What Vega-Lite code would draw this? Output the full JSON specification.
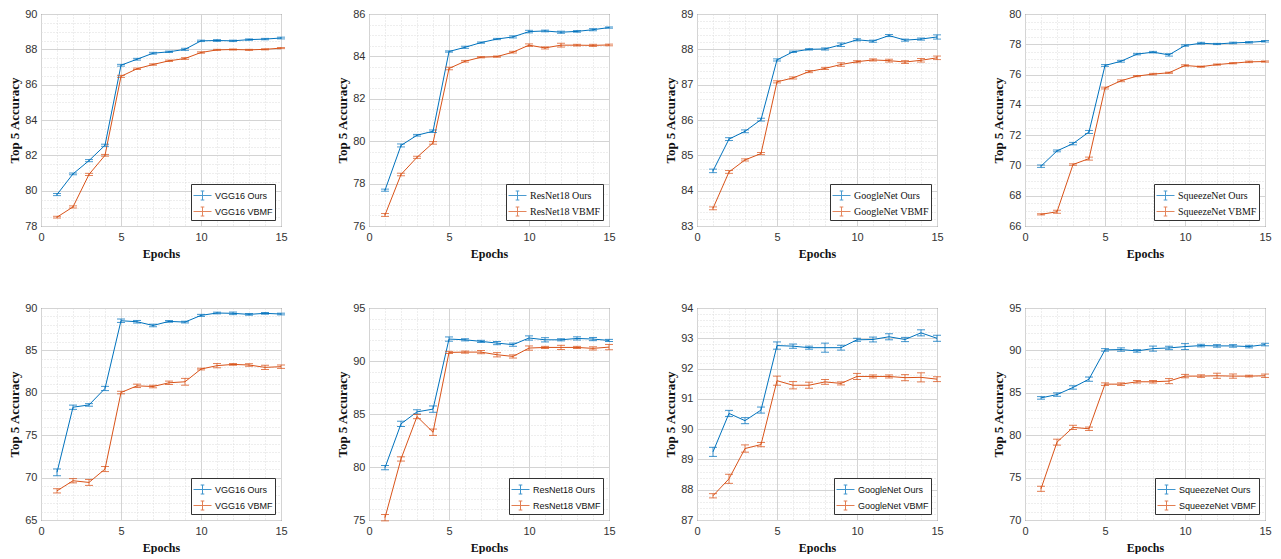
{
  "$schema": "https://vega.github.io/schema/vega-lite/v6.json",
  "padding": {"left": 8, "top": 7, "right": 0, "bottom": 0},
  "background": "white",
  "columns": 4,
  "bounds": "flush",
  "spacing": {"row": 82, "column": 88},
  "resolve": {"scale": {"color": "independent"}, "legend": {"color": "independent"}},
  "datasets": {
    "p1": [
      {"series": "VGG16 Ours", "epoch": 1, "acc": 79.78, "err": 0.06}, {"series": "VGG16 Ours", "epoch": 2, "acc": 80.95, "err": 0.05}, {"series": "VGG16 Ours", "epoch": 3, "acc": 81.7, "err": 0.06}, {"series": "VGG16 Ours", "epoch": 4, "acc": 82.57, "err": 0.06}, {"series": "VGG16 Ours", "epoch": 5, "acc": 87.1, "err": 0.05}, {"series": "VGG16 Ours", "epoch": 6, "acc": 87.44, "err": 0.05}, {"series": "VGG16 Ours", "epoch": 7, "acc": 87.78, "err": 0.05}, {"series": "VGG16 Ours", "epoch": 8, "acc": 87.86, "err": 0.04}, {"series": "VGG16 Ours", "epoch": 9, "acc": 88.0, "err": 0.06}, {"series": "VGG16 Ours", "epoch": 10, "acc": 88.48, "err": 0.04}, {"series": "VGG16 Ours", "epoch": 11, "acc": 88.5, "err": 0.05}, {"series": "VGG16 Ours", "epoch": 12, "acc": 88.48, "err": 0.04}, {"series": "VGG16 Ours", "epoch": 13, "acc": 88.55, "err": 0.04}, {"series": "VGG16 Ours", "epoch": 14, "acc": 88.58, "err": 0.04}, {"series": "VGG16 Ours", "epoch": 15, "acc": 88.64, "err": 0.05},
      {"series": "VGG16 VBMF", "epoch": 1, "acc": 78.5, "err": 0.05}, {"series": "VGG16 VBMF", "epoch": 2, "acc": 79.08, "err": 0.06}, {"series": "VGG16 VBMF", "epoch": 3, "acc": 80.92, "err": 0.06}, {"series": "VGG16 VBMF", "epoch": 4, "acc": 82.0, "err": 0.05}, {"series": "VGG16 VBMF", "epoch": 5, "acc": 86.47, "err": 0.06}, {"series": "VGG16 VBMF", "epoch": 6, "acc": 86.9, "err": 0.04}, {"series": "VGG16 VBMF", "epoch": 7, "acc": 87.14, "err": 0.04}, {"series": "VGG16 VBMF", "epoch": 8, "acc": 87.35, "err": 0.04}, {"series": "VGG16 VBMF", "epoch": 9, "acc": 87.48, "err": 0.05}, {"series": "VGG16 VBMF", "epoch": 10, "acc": 87.82, "err": 0.04}, {"series": "VGG16 VBMF", "epoch": 11, "acc": 87.97, "err": 0.03}, {"series": "VGG16 VBMF", "epoch": 12, "acc": 87.99, "err": 0.03}, {"series": "VGG16 VBMF", "epoch": 13, "acc": 87.97, "err": 0.03}, {"series": "VGG16 VBMF", "epoch": 14, "acc": 88.0, "err": 0.03}, {"series": "VGG16 VBMF", "epoch": 15, "acc": 88.07, "err": 0.03}
    ],
    "p2": [
      {"series": "ResNet18 Ours", "epoch": 1, "acc": 77.69, "err": 0.05}, {"series": "ResNet18 Ours", "epoch": 2, "acc": 79.8, "err": 0.07}, {"series": "ResNet18 Ours", "epoch": 3, "acc": 80.28, "err": 0.04}, {"series": "ResNet18 Ours", "epoch": 4, "acc": 80.47, "err": 0.06}, {"series": "ResNet18 Ours", "epoch": 5, "acc": 84.23, "err": 0.03}, {"series": "ResNet18 Ours", "epoch": 6, "acc": 84.43, "err": 0.05}, {"series": "ResNet18 Ours", "epoch": 7, "acc": 84.65, "err": 0.03}, {"series": "ResNet18 Ours", "epoch": 8, "acc": 84.82, "err": 0.03}, {"series": "ResNet18 Ours", "epoch": 9, "acc": 84.92, "err": 0.05}, {"series": "ResNet18 Ours", "epoch": 10, "acc": 85.17, "err": 0.06}, {"series": "ResNet18 Ours", "epoch": 11, "acc": 85.2, "err": 0.04}, {"series": "ResNet18 Ours", "epoch": 12, "acc": 85.14, "err": 0.05}, {"series": "ResNet18 Ours", "epoch": 13, "acc": 85.18, "err": 0.04}, {"series": "ResNet18 Ours", "epoch": 14, "acc": 85.26, "err": 0.05}, {"series": "ResNet18 Ours", "epoch": 15, "acc": 85.36, "err": 0.03},
      {"series": "ResNet18 VBMF", "epoch": 1, "acc": 76.52, "err": 0.07}, {"series": "ResNet18 VBMF", "epoch": 2, "acc": 78.43, "err": 0.06}, {"series": "ResNet18 VBMF", "epoch": 3, "acc": 79.24, "err": 0.05}, {"series": "ResNet18 VBMF", "epoch": 4, "acc": 79.92, "err": 0.06}, {"series": "ResNet18 VBMF", "epoch": 5, "acc": 83.43, "err": 0.06}, {"series": "ResNet18 VBMF", "epoch": 6, "acc": 83.77, "err": 0.04}, {"series": "ResNet18 VBMF", "epoch": 7, "acc": 83.96, "err": 0.03}, {"series": "ResNet18 VBMF", "epoch": 8, "acc": 83.99, "err": 0.03}, {"series": "ResNet18 VBMF", "epoch": 9, "acc": 84.2, "err": 0.04}, {"series": "ResNet18 VBMF", "epoch": 10, "acc": 84.53, "err": 0.06}, {"series": "ResNet18 VBMF", "epoch": 11, "acc": 84.4, "err": 0.05}, {"series": "ResNet18 VBMF", "epoch": 12, "acc": 84.53, "err": 0.09}, {"series": "ResNet18 VBMF", "epoch": 13, "acc": 84.53, "err": 0.04}, {"series": "ResNet18 VBMF", "epoch": 14, "acc": 84.52, "err": 0.05}, {"series": "ResNet18 VBMF", "epoch": 15, "acc": 84.54, "err": 0.04}
    ],
    "p3": [
      {"series": "GoogleNet Ours", "epoch": 1, "acc": 84.56, "err": 0.05}, {"series": "GoogleNet Ours", "epoch": 2, "acc": 85.46, "err": 0.04}, {"series": "GoogleNet Ours", "epoch": 3, "acc": 85.68, "err": 0.04}, {"series": "GoogleNet Ours", "epoch": 4, "acc": 86.01, "err": 0.04}, {"series": "GoogleNet Ours", "epoch": 5, "acc": 87.7, "err": 0.03}, {"series": "GoogleNet Ours", "epoch": 6, "acc": 87.93, "err": 0.02}, {"series": "GoogleNet Ours", "epoch": 7, "acc": 88.0, "err": 0.02}, {"series": "GoogleNet Ours", "epoch": 8, "acc": 88.01, "err": 0.03}, {"series": "GoogleNet Ours", "epoch": 9, "acc": 88.13, "err": 0.05}, {"series": "GoogleNet Ours", "epoch": 10, "acc": 88.27, "err": 0.03}, {"series": "GoogleNet Ours", "epoch": 11, "acc": 88.23, "err": 0.03}, {"series": "GoogleNet Ours", "epoch": 12, "acc": 88.39, "err": 0.03}, {"series": "GoogleNet Ours", "epoch": 13, "acc": 88.26, "err": 0.03}, {"series": "GoogleNet Ours", "epoch": 14, "acc": 88.29, "err": 0.03}, {"series": "GoogleNet Ours", "epoch": 15, "acc": 88.35, "err": 0.06},
      {"series": "GoogleNet VBMF", "epoch": 1, "acc": 83.5, "err": 0.04}, {"series": "GoogleNet VBMF", "epoch": 2, "acc": 84.53, "err": 0.04}, {"series": "GoogleNet VBMF", "epoch": 3, "acc": 84.87, "err": 0.03}, {"series": "GoogleNet VBMF", "epoch": 4, "acc": 85.05, "err": 0.03}, {"series": "GoogleNet VBMF", "epoch": 5, "acc": 87.08, "err": 0.03}, {"series": "GoogleNet VBMF", "epoch": 6, "acc": 87.19, "err": 0.03}, {"series": "GoogleNet VBMF", "epoch": 7, "acc": 87.37, "err": 0.03}, {"series": "GoogleNet VBMF", "epoch": 8, "acc": 87.46, "err": 0.03}, {"series": "GoogleNet VBMF", "epoch": 9, "acc": 87.57, "err": 0.05}, {"series": "GoogleNet VBMF", "epoch": 10, "acc": 87.65, "err": 0.03}, {"series": "GoogleNet VBMF", "epoch": 11, "acc": 87.7, "err": 0.03}, {"series": "GoogleNet VBMF", "epoch": 12, "acc": 87.68, "err": 0.04}, {"series": "GoogleNet VBMF", "epoch": 13, "acc": 87.64, "err": 0.04}, {"series": "GoogleNet VBMF", "epoch": 14, "acc": 87.69, "err": 0.05}, {"series": "GoogleNet VBMF", "epoch": 15, "acc": 87.76, "err": 0.05}
    ],
    "p4": [
      {"series": "SqueezeNet Ours", "epoch": 1, "acc": 69.95, "err": 0.08}, {"series": "SqueezeNet Ours", "epoch": 2, "acc": 70.96, "err": 0.06}, {"series": "SqueezeNet Ours", "epoch": 3, "acc": 71.44, "err": 0.08}, {"series": "SqueezeNet Ours", "epoch": 4, "acc": 72.21, "err": 0.1}, {"series": "SqueezeNet Ours", "epoch": 5, "acc": 76.6, "err": 0.06}, {"series": "SqueezeNet Ours", "epoch": 6, "acc": 76.88, "err": 0.06}, {"series": "SqueezeNet Ours", "epoch": 7, "acc": 77.35, "err": 0.05}, {"series": "SqueezeNet Ours", "epoch": 8, "acc": 77.48, "err": 0.05}, {"series": "SqueezeNet Ours", "epoch": 9, "acc": 77.3, "err": 0.08}, {"series": "SqueezeNet Ours", "epoch": 10, "acc": 77.92, "err": 0.05}, {"series": "SqueezeNet Ours", "epoch": 11, "acc": 78.07, "err": 0.06}, {"series": "SqueezeNet Ours", "epoch": 12, "acc": 78.02, "err": 0.04}, {"series": "SqueezeNet Ours", "epoch": 13, "acc": 78.09, "err": 0.05}, {"series": "SqueezeNet Ours", "epoch": 14, "acc": 78.13, "err": 0.05}, {"series": "SqueezeNet Ours", "epoch": 15, "acc": 78.2, "err": 0.05},
      {"series": "SqueezeNet VBMF", "epoch": 1, "acc": 66.77, "err": 0.04}, {"series": "SqueezeNet VBMF", "epoch": 2, "acc": 66.94, "err": 0.1}, {"series": "SqueezeNet VBMF", "epoch": 3, "acc": 70.06, "err": 0.05}, {"series": "SqueezeNet VBMF", "epoch": 4, "acc": 70.45, "err": 0.1}, {"series": "SqueezeNet VBMF", "epoch": 5, "acc": 75.11, "err": 0.06}, {"series": "SqueezeNet VBMF", "epoch": 6, "acc": 75.59, "err": 0.06}, {"series": "SqueezeNet VBMF", "epoch": 7, "acc": 75.9, "err": 0.04}, {"series": "SqueezeNet VBMF", "epoch": 8, "acc": 76.03, "err": 0.05}, {"series": "SqueezeNet VBMF", "epoch": 9, "acc": 76.12, "err": 0.04}, {"series": "SqueezeNet VBMF", "epoch": 10, "acc": 76.6, "err": 0.05}, {"series": "SqueezeNet VBMF", "epoch": 11, "acc": 76.52, "err": 0.04}, {"series": "SqueezeNet VBMF", "epoch": 12, "acc": 76.66, "err": 0.04}, {"series": "SqueezeNet VBMF", "epoch": 13, "acc": 76.75, "err": 0.04}, {"series": "SqueezeNet VBMF", "epoch": 14, "acc": 76.84, "err": 0.05}, {"series": "SqueezeNet VBMF", "epoch": 15, "acc": 76.86, "err": 0.04}
    ],
    "p5": [
      {"series": "VGG16 Ours", "epoch": 1, "acc": 70.62, "err": 0.4}, {"series": "VGG16 Ours", "epoch": 2, "acc": 78.3, "err": 0.25}, {"series": "VGG16 Ours", "epoch": 3, "acc": 78.57, "err": 0.15}, {"series": "VGG16 Ours", "epoch": 4, "acc": 80.51, "err": 0.25}, {"series": "VGG16 Ours", "epoch": 5, "acc": 88.5, "err": 0.2}, {"series": "VGG16 Ours", "epoch": 6, "acc": 88.38, "err": 0.15}, {"series": "VGG16 Ours", "epoch": 7, "acc": 87.94, "err": 0.15}, {"series": "VGG16 Ours", "epoch": 8, "acc": 88.42, "err": 0.1}, {"series": "VGG16 Ours", "epoch": 9, "acc": 88.34, "err": 0.1}, {"series": "VGG16 Ours", "epoch": 10, "acc": 89.13, "err": 0.12}, {"series": "VGG16 Ours", "epoch": 11, "acc": 89.41, "err": 0.1}, {"series": "VGG16 Ours", "epoch": 12, "acc": 89.37, "err": 0.15}, {"series": "VGG16 Ours", "epoch": 13, "acc": 89.25, "err": 0.1}, {"series": "VGG16 Ours", "epoch": 14, "acc": 89.37, "err": 0.1}, {"series": "VGG16 Ours", "epoch": 15, "acc": 89.29, "err": 0.1},
      {"series": "VGG16 VBMF", "epoch": 1, "acc": 68.44, "err": 0.25}, {"series": "VGG16 VBMF", "epoch": 2, "acc": 69.63, "err": 0.25}, {"series": "VGG16 VBMF", "epoch": 3, "acc": 69.43, "err": 0.35}, {"series": "VGG16 VBMF", "epoch": 4, "acc": 71.01, "err": 0.3}, {"series": "VGG16 VBMF", "epoch": 5, "acc": 80.03, "err": 0.15}, {"series": "VGG16 VBMF", "epoch": 6, "acc": 80.82, "err": 0.2}, {"series": "VGG16 VBMF", "epoch": 7, "acc": 80.74, "err": 0.15}, {"series": "VGG16 VBMF", "epoch": 8, "acc": 81.18, "err": 0.2}, {"series": "VGG16 VBMF", "epoch": 9, "acc": 81.3, "err": 0.4}, {"series": "VGG16 VBMF", "epoch": 10, "acc": 82.8, "err": 0.1}, {"series": "VGG16 VBMF", "epoch": 11, "acc": 83.2, "err": 0.25}, {"series": "VGG16 VBMF", "epoch": 12, "acc": 83.35, "err": 0.1}, {"series": "VGG16 VBMF", "epoch": 13, "acc": 83.28, "err": 0.15}, {"series": "VGG16 VBMF", "epoch": 14, "acc": 83.0, "err": 0.25}, {"series": "VGG16 VBMF", "epoch": 15, "acc": 83.08, "err": 0.2}
    ],
    "p6": [
      {"series": "ResNet18 Ours", "epoch": 1, "acc": 79.94, "err": 0.2}, {"series": "ResNet18 Ours", "epoch": 2, "acc": 84.07, "err": 0.25}, {"series": "ResNet18 Ours", "epoch": 3, "acc": 85.2, "err": 0.2}, {"series": "ResNet18 Ours", "epoch": 4, "acc": 85.46, "err": 0.3}, {"series": "ResNet18 Ours", "epoch": 5, "acc": 92.07, "err": 0.2}, {"series": "ResNet18 Ours", "epoch": 6, "acc": 92.0, "err": 0.1}, {"series": "ResNet18 Ours", "epoch": 7, "acc": 91.85, "err": 0.1}, {"series": "ResNet18 Ours", "epoch": 8, "acc": 91.69, "err": 0.15}, {"series": "ResNet18 Ours", "epoch": 9, "acc": 91.54, "err": 0.15}, {"series": "ResNet18 Ours", "epoch": 10, "acc": 92.17, "err": 0.2}, {"series": "ResNet18 Ours", "epoch": 11, "acc": 92.0, "err": 0.2}, {"series": "ResNet18 Ours", "epoch": 12, "acc": 92.0, "err": 0.1}, {"series": "ResNet18 Ours", "epoch": 13, "acc": 92.13, "err": 0.15}, {"series": "ResNet18 Ours", "epoch": 14, "acc": 92.07, "err": 0.15}, {"series": "ResNet18 Ours", "epoch": 15, "acc": 91.94, "err": 0.1},
      {"series": "ResNet18 VBMF", "epoch": 1, "acc": 75.22, "err": 0.3}, {"series": "ResNet18 VBMF", "epoch": 2, "acc": 80.76, "err": 0.2}, {"series": "ResNet18 VBMF", "epoch": 3, "acc": 84.76, "err": 0.2}, {"series": "ResNet18 VBMF", "epoch": 4, "acc": 83.28, "err": 0.3}, {"series": "ResNet18 VBMF", "epoch": 5, "acc": 90.81, "err": 0.1}, {"series": "ResNet18 VBMF", "epoch": 6, "acc": 90.84, "err": 0.1}, {"series": "ResNet18 VBMF", "epoch": 7, "acc": 90.84, "err": 0.15}, {"series": "ResNet18 VBMF", "epoch": 8, "acc": 90.59, "err": 0.2}, {"series": "ResNet18 VBMF", "epoch": 9, "acc": 90.43, "err": 0.15}, {"series": "ResNet18 VBMF", "epoch": 10, "acc": 91.22, "err": 0.2}, {"series": "ResNet18 VBMF", "epoch": 11, "acc": 91.28, "err": 0.1}, {"series": "ResNet18 VBMF", "epoch": 12, "acc": 91.28, "err": 0.2}, {"series": "ResNet18 VBMF", "epoch": 13, "acc": 91.28, "err": 0.1}, {"series": "ResNet18 VBMF", "epoch": 14, "acc": 91.19, "err": 0.15}, {"series": "ResNet18 VBMF", "epoch": 15, "acc": 91.31, "err": 0.25}
    ],
    "p7": [
      {"series": "GoogleNet Ours", "epoch": 1, "acc": 89.25, "err": 0.15}, {"series": "GoogleNet Ours", "epoch": 2, "acc": 90.52, "err": 0.1}, {"series": "GoogleNet Ours", "epoch": 3, "acc": 90.28, "err": 0.1}, {"series": "GoogleNet Ours", "epoch": 4, "acc": 90.63, "err": 0.1}, {"series": "GoogleNet Ours", "epoch": 5, "acc": 92.76, "err": 0.12}, {"series": "GoogleNet Ours", "epoch": 6, "acc": 92.74, "err": 0.07}, {"series": "GoogleNet Ours", "epoch": 7, "acc": 92.69, "err": 0.05}, {"series": "GoogleNet Ours", "epoch": 8, "acc": 92.69, "err": 0.15}, {"series": "GoogleNet Ours", "epoch": 9, "acc": 92.69, "err": 0.08}, {"series": "GoogleNet Ours", "epoch": 10, "acc": 92.95, "err": 0.05}, {"series": "GoogleNet Ours", "epoch": 11, "acc": 92.96, "err": 0.08}, {"series": "GoogleNet Ours", "epoch": 12, "acc": 93.05, "err": 0.1}, {"series": "GoogleNet Ours", "epoch": 13, "acc": 92.96, "err": 0.07}, {"series": "GoogleNet Ours", "epoch": 14, "acc": 93.18, "err": 0.1}, {"series": "GoogleNet Ours", "epoch": 15, "acc": 93.0, "err": 0.1},
      {"series": "GoogleNet VBMF", "epoch": 1, "acc": 87.8, "err": 0.07}, {"series": "GoogleNet VBMF", "epoch": 2, "acc": 88.36, "err": 0.15}, {"series": "GoogleNet VBMF", "epoch": 3, "acc": 89.36, "err": 0.12}, {"series": "GoogleNet VBMF", "epoch": 4, "acc": 89.49, "err": 0.07}, {"series": "GoogleNet VBMF", "epoch": 5, "acc": 91.6, "err": 0.15}, {"series": "GoogleNet VBMF", "epoch": 6, "acc": 91.45, "err": 0.12}, {"series": "GoogleNet VBMF", "epoch": 7, "acc": 91.45, "err": 0.1}, {"series": "GoogleNet VBMF", "epoch": 8, "acc": 91.56, "err": 0.08}, {"series": "GoogleNet VBMF", "epoch": 9, "acc": 91.51, "err": 0.05}, {"series": "GoogleNet VBMF", "epoch": 10, "acc": 91.74, "err": 0.1}, {"series": "GoogleNet VBMF", "epoch": 11, "acc": 91.74, "err": 0.05}, {"series": "GoogleNet VBMF", "epoch": 12, "acc": 91.74, "err": 0.05}, {"series": "GoogleNet VBMF", "epoch": 13, "acc": 91.7, "err": 0.1}, {"series": "GoogleNet VBMF", "epoch": 14, "acc": 91.71, "err": 0.15}, {"series": "GoogleNet VBMF", "epoch": 15, "acc": 91.65, "err": 0.08}
    ],
    "p8": [
      {"series": "SqueezeNet Ours", "epoch": 1, "acc": 84.4, "err": 0.15}, {"series": "SqueezeNet Ours", "epoch": 2, "acc": 84.79, "err": 0.2}, {"series": "SqueezeNet Ours", "epoch": 3, "acc": 85.63, "err": 0.2}, {"series": "SqueezeNet Ours", "epoch": 4, "acc": 86.61, "err": 0.25}, {"series": "SqueezeNet Ours", "epoch": 5, "acc": 90.06, "err": 0.15}, {"series": "SqueezeNet Ours", "epoch": 6, "acc": 90.1, "err": 0.2}, {"series": "SqueezeNet Ours", "epoch": 7, "acc": 89.94, "err": 0.15}, {"series": "SqueezeNet Ours", "epoch": 8, "acc": 90.21, "err": 0.3}, {"series": "SqueezeNet Ours", "epoch": 9, "acc": 90.29, "err": 0.2}, {"series": "SqueezeNet Ours", "epoch": 10, "acc": 90.45, "err": 0.35}, {"series": "SqueezeNet Ours", "epoch": 11, "acc": 90.57, "err": 0.15}, {"series": "SqueezeNet Ours", "epoch": 12, "acc": 90.53, "err": 0.15}, {"series": "SqueezeNet Ours", "epoch": 13, "acc": 90.53, "err": 0.15}, {"series": "SqueezeNet Ours", "epoch": 14, "acc": 90.45, "err": 0.15}, {"series": "SqueezeNet Ours", "epoch": 15, "acc": 90.69, "err": 0.15},
      {"series": "SqueezeNet VBMF", "epoch": 1, "acc": 73.68, "err": 0.3}, {"series": "SqueezeNet VBMF", "epoch": 2, "acc": 79.18, "err": 0.35}, {"series": "SqueezeNet VBMF", "epoch": 3, "acc": 80.92, "err": 0.25}, {"series": "SqueezeNet VBMF", "epoch": 4, "acc": 80.76, "err": 0.2}, {"series": "SqueezeNet VBMF", "epoch": 5, "acc": 86.02, "err": 0.15}, {"series": "SqueezeNet VBMF", "epoch": 6, "acc": 86.02, "err": 0.15}, {"series": "SqueezeNet VBMF", "epoch": 7, "acc": 86.3, "err": 0.15}, {"series": "SqueezeNet VBMF", "epoch": 8, "acc": 86.3, "err": 0.15}, {"series": "SqueezeNet VBMF", "epoch": 9, "acc": 86.38, "err": 0.3}, {"series": "SqueezeNet VBMF", "epoch": 10, "acc": 86.97, "err": 0.2}, {"series": "SqueezeNet VBMF", "epoch": 11, "acc": 86.97, "err": 0.15}, {"series": "SqueezeNet VBMF", "epoch": 12, "acc": 87.01, "err": 0.3}, {"series": "SqueezeNet VBMF", "epoch": 13, "acc": 86.97, "err": 0.25}, {"series": "SqueezeNet VBMF", "epoch": 14, "acc": 86.97, "err": 0.1}, {"series": "SqueezeNet VBMF", "epoch": 15, "acc": 87.01, "err": 0.2}
    ]
  },
  "concat": [
    {
      "data": {"name": "p1"}, "width": 240, "height": 212,
      "encoding": {
        "x": {"field": "epoch", "type": "quantitative", "scale": {"domain": [0, 15], "nice": false, "zero": false}, "axis": {"title": "Epochs", "values": [0,1,2,3,4,5,6,7,8,9,10,11,12,13,14,15], "labelExpr": "datum.value % 5 === 0 ? datum.label : ''", "gridDash": {"condition": {"test": "datum.value % 5 === 0", "value": []}, "value": [1, 2]}, "gridColor": {"condition": {"test": "datum.value % 5 === 0", "value": "#d4d4d4"}, "value": "#dcdcdc"}}},
        "y": {"field": "acc", "type": "quantitative", "scale": {"domain": [78, 90], "nice": false, "zero": false}, "axis": {"title": "Top 5 Accuracy", "values": [78,78.5,79,79.5,80,80.5,81,81.5,82,82.5,83,83.5,84,84.5,85,85.5,86,86.5,87,87.5,88,88.5,89,89.5,90], "labelExpr": "datum.value % 2 === 0 ? format(datum.value, 'd') : ''", "gridDash": {"condition": {"test": "datum.value % 2 === 0", "value": []}, "value": [1, 2]}, "gridColor": {"condition": {"test": "datum.value % 2 === 0", "value": "#d4d4d4"}, "value": "#dcdcdc"}}},
        "color": {"field": "series", "type": "nominal", "scale": {"range": ["#0072BD", "#D95319"]}, "legend": {"labelFont": "Liberation Sans"}}
      },
      "layer": [
        {"mark": {"type": "line", "strokeWidth": 1}},
        {"mark": {"type": "errorbar", "ticks": {"size": 8}, "thickness": 1}, "encoding": {"yError": {"field": "err"}}}
      ]
    },
    {
      "data": {"name": "p2"}, "width": 240, "height": 212,
      "encoding": {
        "x": {"field": "epoch", "type": "quantitative", "scale": {"domain": [0, 15], "nice": false, "zero": false}, "axis": {"title": "Epochs", "values": [0,1,2,3,4,5,6,7,8,9,10,11,12,13,14,15], "labelExpr": "datum.value % 5 === 0 ? datum.label : ''", "gridDash": {"condition": {"test": "datum.value % 5 === 0", "value": []}, "value": [1, 2]}, "gridColor": {"condition": {"test": "datum.value % 5 === 0", "value": "#d4d4d4"}, "value": "#dcdcdc"}}},
        "y": {"field": "acc", "type": "quantitative", "scale": {"domain": [76, 86], "nice": false, "zero": false}, "axis": {"title": "Top 5 Accuracy", "values": [76,76.5,77,77.5,78,78.5,79,79.5,80,80.5,81,81.5,82,82.5,83,83.5,84,84.5,85,85.5,86], "labelExpr": "datum.value % 2 === 0 ? format(datum.value, 'd') : ''", "gridDash": {"condition": {"test": "datum.value % 2 === 0", "value": []}, "value": [1, 2]}, "gridColor": {"condition": {"test": "datum.value % 2 === 0", "value": "#d4d4d4"}, "value": "#dcdcdc"}}},
        "color": {"field": "series", "type": "nominal", "scale": {"range": ["#0072BD", "#D95319"]}, "legend": {"labelFont": "Liberation Serif", "labelFontSize": 10}}
      },
      "layer": [
        {"mark": {"type": "line", "strokeWidth": 1}},
        {"mark": {"type": "errorbar", "ticks": {"size": 8}, "thickness": 1}, "encoding": {"yError": {"field": "err"}}}
      ]
    },
    {
      "data": {"name": "p3"}, "width": 240, "height": 212,
      "encoding": {
        "x": {"field": "epoch", "type": "quantitative", "scale": {"domain": [0, 15], "nice": false, "zero": false}, "axis": {"title": "Epochs", "values": [0,1,2,3,4,5,6,7,8,9,10,11,12,13,14,15], "labelExpr": "datum.value % 5 === 0 ? datum.label : ''", "gridDash": {"condition": {"test": "datum.value % 5 === 0", "value": []}, "value": [1, 2]}, "gridColor": {"condition": {"test": "datum.value % 5 === 0", "value": "#d4d4d4"}, "value": "#dcdcdc"}}},
        "y": {"field": "acc", "type": "quantitative", "scale": {"domain": [83, 89], "nice": false, "zero": false}, "axis": {"title": "Top 5 Accuracy", "values": [83,83.2,83.4,83.6,83.8,84,84.2,84.4,84.6,84.8,85,85.2,85.4,85.6,85.8,86,86.2,86.4,86.6,86.8,87,87.2,87.4,87.6,87.8,88,88.2,88.4,88.6,88.8,89], "labelExpr": "datum.value % 1 === 0 ? format(datum.value, 'd') : ''", "gridDash": {"condition": {"test": "datum.value % 1 === 0", "value": []}, "value": [1, 2]}, "gridColor": {"condition": {"test": "datum.value % 1 === 0", "value": "#d4d4d4"}, "value": "#dcdcdc"}}},
        "color": {"field": "series", "type": "nominal", "scale": {"range": ["#0072BD", "#D95319"]}, "legend": {"labelFont": "Liberation Serif", "labelFontSize": 10}}
      },
      "layer": [
        {"mark": {"type": "line", "strokeWidth": 1}},
        {"mark": {"type": "errorbar", "ticks": {"size": 8}, "thickness": 1}, "encoding": {"yError": {"field": "err"}}}
      ]
    },
    {
      "data": {"name": "p4"}, "width": 240, "height": 212,
      "encoding": {
        "x": {"field": "epoch", "type": "quantitative", "scale": {"domain": [0, 15], "nice": false, "zero": false}, "axis": {"title": "Epochs", "values": [0,1,2,3,4,5,6,7,8,9,10,11,12,13,14,15], "labelExpr": "datum.value % 5 === 0 ? datum.label : ''", "gridDash": {"condition": {"test": "datum.value % 5 === 0", "value": []}, "value": [1, 2]}, "gridColor": {"condition": {"test": "datum.value % 5 === 0", "value": "#d4d4d4"}, "value": "#dcdcdc"}}},
        "y": {"field": "acc", "type": "quantitative", "scale": {"domain": [66, 80], "nice": false, "zero": false}, "axis": {"title": "Top 5 Accuracy", "values": [66,66.5,67,67.5,68,68.5,69,69.5,70,70.5,71,71.5,72,72.5,73,73.5,74,74.5,75,75.5,76,76.5,77,77.5,78,78.5,79,79.5,80], "labelExpr": "datum.value % 2 === 0 ? format(datum.value, 'd') : ''", "gridDash": {"condition": {"test": "datum.value % 2 === 0", "value": []}, "value": [1, 2]}, "gridColor": {"condition": {"test": "datum.value % 2 === 0", "value": "#d4d4d4"}, "value": "#dcdcdc"}}},
        "color": {"field": "series", "type": "nominal", "scale": {"range": ["#0072BD", "#D95319"]}, "legend": {"labelFont": "Liberation Serif", "labelFontSize": 10}}
      },
      "layer": [
        {"mark": {"type": "line", "strokeWidth": 1}},
        {"mark": {"type": "errorbar", "ticks": {"size": 8}, "thickness": 1}, "encoding": {"yError": {"field": "err"}}}
      ]
    },
    {
      "data": {"name": "p5"}, "width": 240, "height": 212,
      "encoding": {
        "x": {"field": "epoch", "type": "quantitative", "scale": {"domain": [0, 15], "nice": false, "zero": false}, "axis": {"title": "Epochs", "values": [0,1,2,3,4,5,6,7,8,9,10,11,12,13,14,15], "labelExpr": "datum.value % 5 === 0 ? datum.label : ''", "gridDash": {"condition": {"test": "datum.value % 5 === 0", "value": []}, "value": [1, 2]}, "gridColor": {"condition": {"test": "datum.value % 5 === 0", "value": "#d4d4d4"}, "value": "#dcdcdc"}}},
        "y": {"field": "acc", "type": "quantitative", "scale": {"domain": [65, 90], "nice": false, "zero": false}, "axis": {"title": "Top 5 Accuracy", "values": [65,66,67,68,69,70,71,72,73,74,75,76,77,78,79,80,81,82,83,84,85,86,87,88,89,90], "labelExpr": "datum.value % 5 === 0 ? format(datum.value, 'd') : ''", "gridDash": {"condition": {"test": "datum.value % 5 === 0", "value": []}, "value": [1, 2]}, "gridColor": {"condition": {"test": "datum.value % 5 === 0", "value": "#d4d4d4"}, "value": "#dcdcdc"}}},
        "color": {"field": "series", "type": "nominal", "scale": {"range": ["#0072BD", "#D95319"]}, "legend": {"labelFont": "Liberation Sans"}}
      },
      "layer": [
        {"mark": {"type": "line", "strokeWidth": 1}},
        {"mark": {"type": "errorbar", "ticks": {"size": 8}, "thickness": 1, "opacity": 0.75}, "encoding": {"yError": {"field": "err"}}}
      ]
    },
    {
      "data": {"name": "p6"}, "width": 240, "height": 212,
      "encoding": {
        "x": {"field": "epoch", "type": "quantitative", "scale": {"domain": [0, 15], "nice": false, "zero": false}, "axis": {"title": "Epochs", "values": [0,1,2,3,4,5,6,7,8,9,10,11,12,13,14,15], "labelExpr": "datum.value % 5 === 0 ? datum.label : ''", "gridDash": {"condition": {"test": "datum.value % 5 === 0", "value": []}, "value": [1, 2]}, "gridColor": {"condition": {"test": "datum.value % 5 === 0", "value": "#d4d4d4"}, "value": "#dcdcdc"}}},
        "y": {"field": "acc", "type": "quantitative", "scale": {"domain": [75, 95], "nice": false, "zero": false}, "axis": {"title": "Top 5 Accuracy", "values": [75,76,77,78,79,80,81,82,83,84,85,86,87,88,89,90,91,92,93,94,95], "labelExpr": "datum.value % 5 === 0 ? format(datum.value, 'd') : ''", "gridDash": {"condition": {"test": "datum.value % 5 === 0", "value": []}, "value": [1, 2]}, "gridColor": {"condition": {"test": "datum.value % 5 === 0", "value": "#d4d4d4"}, "value": "#dcdcdc"}}},
        "color": {"field": "series", "type": "nominal", "scale": {"range": ["#0072BD", "#D95319"]}, "legend": {"labelFont": "Liberation Sans"}}
      },
      "layer": [
        {"mark": {"type": "line", "strokeWidth": 1}},
        {"mark": {"type": "errorbar", "ticks": {"size": 8}, "thickness": 1, "opacity": 0.75}, "encoding": {"yError": {"field": "err"}}}
      ]
    },
    {
      "data": {"name": "p7"}, "width": 240, "height": 212,
      "encoding": {
        "x": {"field": "epoch", "type": "quantitative", "scale": {"domain": [0, 15], "nice": false, "zero": false}, "axis": {"title": "Epochs", "values": [0,1,2,3,4,5,6,7,8,9,10,11,12,13,14,15], "labelExpr": "datum.value % 5 === 0 ? datum.label : ''", "gridDash": {"condition": {"test": "datum.value % 5 === 0", "value": []}, "value": [1, 2]}, "gridColor": {"condition": {"test": "datum.value % 5 === 0", "value": "#d4d4d4"}, "value": "#dcdcdc"}}},
        "y": {"field": "acc", "type": "quantitative", "scale": {"domain": [87, 94], "nice": false, "zero": false}, "axis": {"title": "Top 5 Accuracy", "values": [87,87.2,87.4,87.6,87.8,88,88.2,88.4,88.6,88.8,89,89.2,89.4,89.6,89.8,90,90.2,90.4,90.6,90.8,91,91.2,91.4,91.6,91.8,92,92.2,92.4,92.6,92.8,93,93.2,93.4,93.6,93.8,94], "labelExpr": "datum.value % 1 === 0 ? format(datum.value, 'd') : ''", "gridDash": {"condition": {"test": "datum.value % 1 === 0", "value": []}, "value": [1, 2]}, "gridColor": {"condition": {"test": "datum.value % 1 === 0", "value": "#d4d4d4"}, "value": "#dcdcdc"}}},
        "color": {"field": "series", "type": "nominal", "scale": {"range": ["#0072BD", "#D95319"]}, "legend": {"labelFont": "Liberation Sans"}}
      },
      "layer": [
        {"mark": {"type": "line", "strokeWidth": 1}},
        {"mark": {"type": "errorbar", "ticks": {"size": 8}, "thickness": 1, "opacity": 0.75}, "encoding": {"yError": {"field": "err"}}}
      ]
    },
    {
      "data": {"name": "p8"}, "width": 240, "height": 212,
      "encoding": {
        "x": {"field": "epoch", "type": "quantitative", "scale": {"domain": [0, 15], "nice": false, "zero": false}, "axis": {"title": "Epochs", "values": [0,1,2,3,4,5,6,7,8,9,10,11,12,13,14,15], "labelExpr": "datum.value % 5 === 0 ? datum.label : ''", "gridDash": {"condition": {"test": "datum.value % 5 === 0", "value": []}, "value": [1, 2]}, "gridColor": {"condition": {"test": "datum.value % 5 === 0", "value": "#d4d4d4"}, "value": "#dcdcdc"}}},
        "y": {"field": "acc", "type": "quantitative", "scale": {"domain": [70, 95], "nice": false, "zero": false}, "axis": {"title": "Top 5 Accuracy", "values": [70,71,72,73,74,75,76,77,78,79,80,81,82,83,84,85,86,87,88,89,90,91,92,93,94,95], "labelExpr": "datum.value % 5 === 0 ? format(datum.value, 'd') : ''", "gridDash": {"condition": {"test": "datum.value % 5 === 0", "value": []}, "value": [1, 2]}, "gridColor": {"condition": {"test": "datum.value % 5 === 0", "value": "#d4d4d4"}, "value": "#dcdcdc"}}},
        "color": {"field": "series", "type": "nominal", "scale": {"range": ["#0072BD", "#D95319"]}, "legend": {"labelFont": "Liberation Sans"}}
      },
      "layer": [
        {"mark": {"type": "line", "strokeWidth": 1}},
        {"mark": {"type": "errorbar", "ticks": {"size": 8}, "thickness": 1, "opacity": 0.75}, "encoding": {"yError": {"field": "err"}}}
      ]
    }
  ],
  "config": {
    "view": {"stroke": "#3a3a3a", "strokeWidth": 1},
    "axis": {"domain": false, "ticks": false, "grid": true, "gridWidth": 1, "labelFont": "Liberation Sans", "labelFontSize": 11, "labelColor": "#333333", "labelFlush": false, "labelOverlap": false, "labelBound": false, "titleFont": "Liberation Serif", "titleFontWeight": "bold", "titleFontSize": 12, "titleColor": "#111111"},
    "axisX": {"labelPadding": 5, "titlePadding": 6},
    "axisY": {"labelPadding": 4, "titlePadding": 3, "titleFontSize": 13},
    "legend": {"orient": "bottom-right", "offset": 6, "padding": 2, "rowPadding": 0, "title": null, "strokeColor": "#333333", "fillColor": "white", "labelFontSize": 9, "labelColor": "#111111", "labelOffset": 3, "symbolType": "M-1,0H1M0,-0.5V0.5M-0.2,-0.5H0.2M-0.2,0.5H0.2", "symbolSize": 324, "symbolStrokeWidth": 1, "symbolFillColor": "transparent", "cornerRadius": 0}
  }
}
